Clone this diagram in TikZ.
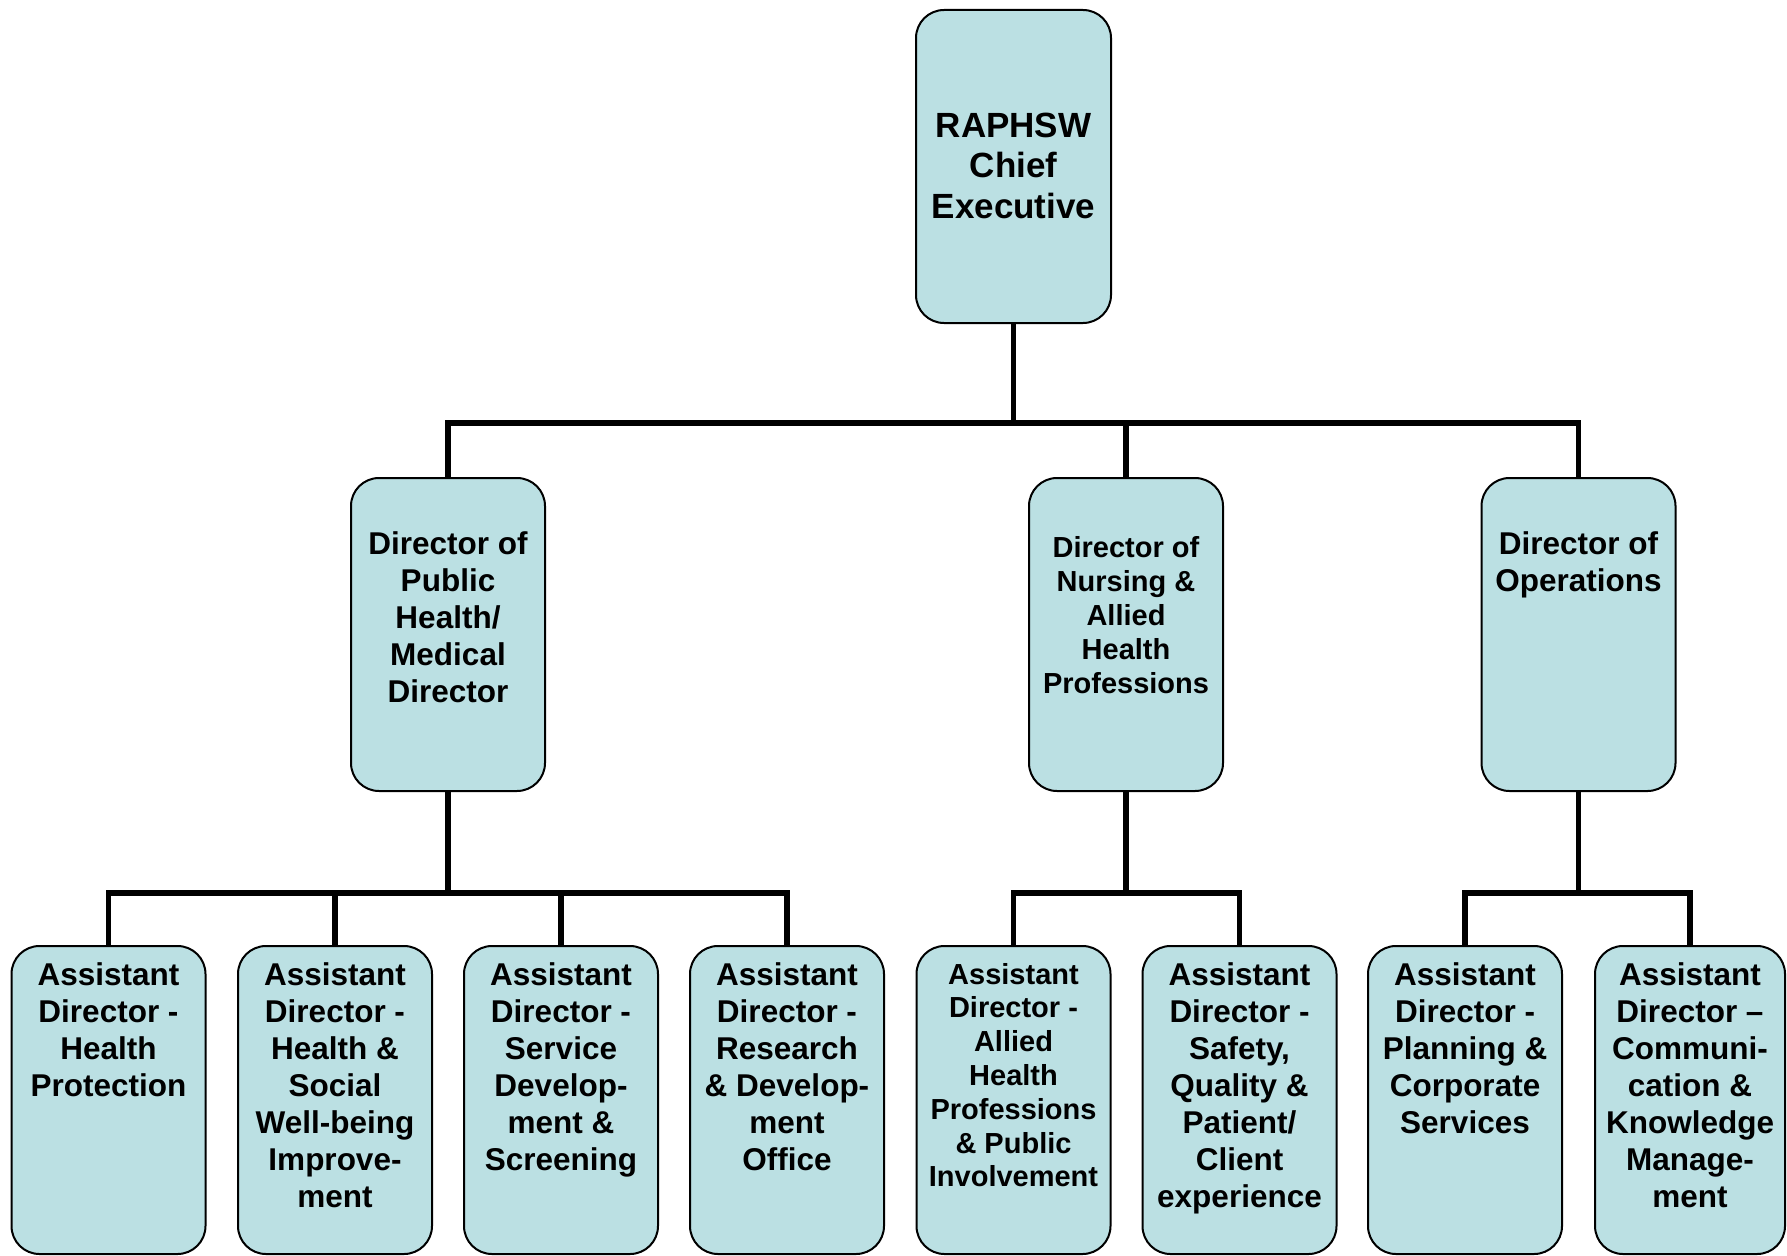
\documentclass[tikz,border=0pt]{standalone}
\usepackage{fontspec}
\setmainfont{Liberation Sans}[Ligatures=NoCommon]
\definecolor{boxfill}{RGB}{187,224,227}
% box content: height, width, first-baseline offset, font size, line skip, text
\newcommand{\orgtext}[6]{\parbox[c][#1pt][t]{#2pt}{\centering\fontsize{#4pt}{#5pt}\selectfont\bfseries\rule{0pt}{#3pt}#6}}
\begin{document}
\begin{tikzpicture}[x=1pt,y=-1pt,
  orgbox/.style={draw=black, line width=2pt, fill=boxfill, rounded corners=28pt, inner sep=0pt, outer sep=0pt},
  link/.style={draw=black, line width=5.8pt, line join=miter}]
\useasboundingbox (0,0) rectangle (1787,1255);
% levels of the connector buses
\coordinate (busA) at (0,423);
\coordinate (busB) at (0,893);

% top
\node[orgbox] (ce) at (1013.5,166.5) {\orgtext{313}{195}{127}{35}{40.5}{RAPHSW\\Chief\\Executive}};
% directors
\node[orgbox] (ph) at (448,634.5) {\orgtext{313}{194}{76}{31.5}{37}{Director of\\Public\\Health/\\Medical\\Director}};
\node[orgbox] (nu) at (1126,634.5) {\orgtext{313}{194}{79}{29}{34}{Director of\\Nursing \&\\Allied\\Health\\Professions}};
\node[orgbox] (op) at (1578.5,634.5) {\orgtext{313}{194}{76}{31.5}{37}{Director of\\Operations}};
% assistant directors
\node[orgbox] (a1) at (108.5,1100) {\orgtext{308}{194}{39}{31.5}{37}{Assistant\\Director -\\Health\\Protection}};
\node[orgbox] (a2) at (335,1100) {\orgtext{308}{194}{39}{31.5}{37}{Assistant\\Director -\\Health \&\\Social\\Well-being\\Improve-\\ment}};
\node[orgbox] (a3) at (561,1100) {\orgtext{308}{194}{39}{31.5}{37}{Assistant\\Director -\\Service\\Develop-\\ment \&\\Screening}};
\node[orgbox] (a4) at (787,1100) {\orgtext{308}{194}{39}{31.5}{37}{Assistant\\Director -\\Research\\\& Develop-\\ment\\Office}};
\node[orgbox] (a5) at (1013.5,1100) {\orgtext{308}{194}{38}{29}{33.8}{Assistant\\Director -\\Allied\\Health\\Professions\\\& Public\\Involvement}};
\node[orgbox] (a6) at (1239.5,1100) {\orgtext{308}{194}{39}{31.5}{37}{Assistant\\Director -\\Safety,\\Quality \&\\Patient/\\Client\\experience}};
\node[orgbox] (a7) at (1465,1100) {\orgtext{308}{194}{39}{31.5}{37}{Assistant\\Director -\\Planning \&\\Corporate\\Services}};
\node[orgbox] (a8) at (1690,1100) {\orgtext{308}{190}{39}{31.5}{37}{Assistant\\Director –\\Communi-\\cation \&\\Knowledge\\Manage-\\ment}};

% connectors
\draw[link] (ce.south) -- (ce.south |- busA);
\draw[link] (ph.north) -- (ph.north |- busA) -- (op.north |- busA) -- (op.north);
\draw[link] (nu.north) -- (nu.north |- busA);
\draw[link] (ph.south) -- (ph.south |- busB);
\draw[link] (a1.north) -- (a1.north |- busB) -- (a4.north |- busB) -- (a4.north);
\draw[link] (a2.north) -- (a2.north |- busB);
\draw[link] (a3.north) -- (a3.north |- busB);
\draw[link] (nu.south) -- (nu.south |- busB);
\draw[link] (a5.north) -- (a5.north |- busB) -- (a6.north |- busB) -- (a6.north);
\draw[link] (op.south) -- (op.south |- busB);
\draw[link] (a7.north) -- (a7.north |- busB) -- (a8.north |- busB) -- (a8.north);
\end{tikzpicture}
\end{document}
